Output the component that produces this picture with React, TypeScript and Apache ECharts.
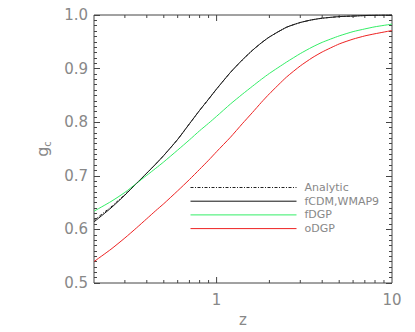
import React, { useEffect, useRef } from "react";
import * as echarts from "echarts";

const zValues = [0.2, 0.25, 0.3, 0.35, 0.4, 0.45, 0.5, 0.6, 0.7, 0.8, 0.9, 1.0, 1.2, 1.4, 1.6, 1.8, 2.0, 2.5, 3.0, 3.5, 4, 5, 6, 7, 8, 10];
const analytic = [0.617, 0.642, 0.665, 0.686, 0.705, 0.722, 0.738, 0.768, 0.797, 0.822, 0.843, 0.862, 0.893, 0.916, 0.934, 0.948, 0.959, 0.977, 0.986, 0.991, 0.994, 0.997, 0.998, 0.999, 0.9995, 1.0];
const fcdm = [0.614, 0.640, 0.664, 0.686, 0.705, 0.722, 0.738, 0.768, 0.797, 0.822, 0.843, 0.862, 0.893, 0.916, 0.934, 0.948, 0.959, 0.977, 0.986, 0.991, 0.994, 0.997, 0.998, 0.999, 0.9995, 1.0];
const fdgp = [0.634, 0.652, 0.669, 0.686, 0.701, 0.714, 0.726, 0.748, 0.767, 0.784, 0.798, 0.811, 0.834, 0.852, 0.867, 0.880, 0.891, 0.912, 0.928, 0.940, 0.949, 0.961, 0.969, 0.974, 0.978, 0.983];
const odgp = [0.540, 0.563, 0.584, 0.603, 0.620, 0.635, 0.648, 0.672, 0.693, 0.712, 0.729, 0.745, 0.772, 0.797, 0.818, 0.837, 0.853, 0.884, 0.905, 0.920, 0.931, 0.946, 0.955, 0.961, 0.965, 0.971];

const seriesNames = ["Analytic", "fCDM,WMAP9", "fDGP", "oDGP"];
const xMinorTicks = [0.3, 0.4, 0.5, 0.6, 0.7, 0.8, 0.9, 2, 3, 4, 5, 6, 7, 8, 9];
const xMajorTicks = [1];
const xTickLabels = [1, 10];

const AXIS = "#444";
const LABEL = "#888";
const FONT = "DejaVu Sans";

export default function App() {
  const ref = useRef<HTMLDivElement>(null);
  useEffect(() => {
    const chart = echarts.init(ref.current!, null, { renderer: "svg" });
    const pairs = (ys: number[]) => zValues.map((z, i) => [z, ys[i]]);
    const tickData = [
      ...xMinorTicks.map((z) => [z, 0.5, 0]),
      ...xMajorTicks.map((z) => [z, 0.5, 1]),
    ];
    const yAxisCommon = {
      type: "value",
      min: 0.5,
      max: 1.0,
      interval: 0.1,
      splitLine: { show: false },
      axisLine: { show: false },
      axisTick: { show: true, inside: true, length: 6, lineStyle: { color: AXIS } },
      minorTick: { show: true, splitNumber: 10, length: 3, lineStyle: { color: AXIS } },
    };
    const lineSeries = (name: string, ys: number[], color: string, type: any, z: number) => ({
      name,
      type: "line",
      data: pairs(ys),
      showSymbol: false,
      symbol: "none",
      smooth: 0.2,
      lineStyle: { color, width: 1, type },
      itemStyle: { color },
      z,
    });
    chart.setOption({
      animation: false,
      backgroundColor: "#fff",
      grid: { left: 94, right: 23, top: 15, bottom: 45, show: true, borderColor: AXIS, borderWidth: 1, backgroundColor: "transparent" },
      xAxis: {
        type: "log",
        logBase: 10,
        min: 0.2,
        max: 10,
        splitLine: { show: false },
        axisLine: { show: false },
        axisTick: { show: false },
        axisLabel: {
          color: LABEL,
          fontFamily: FONT,
          fontSize: 15,
          margin: 9,
          formatter: (v: number) => {
            const hit = xTickLabels.find((t) => Math.abs(v - t) < 1e-6 * t);
            return hit !== undefined ? String(hit) : "";
          },
        },
        name: "z",
        nameLocation: "middle",
        nameGap: 29,
        nameTextStyle: { color: LABEL, fontFamily: FONT, fontSize: 15 },
      },
      yAxis: [
        {
          ...yAxisCommon,
          position: "left",
          axisLabel: {
            color: LABEL,
            fontFamily: FONT,
            fontSize: 15,
            margin: 6,
            formatter: (v: number) => v.toFixed(1),
          },
          name: "{a|g}{b|c}",
          nameLocation: "middle",
          nameGap: 42,
          nameRotate: 90,
          nameTextStyle: {
            color: LABEL,
            fontFamily: FONT,
            rich: {
              a: { fontSize: 16, color: LABEL, fontFamily: FONT },
              b: { fontSize: 10, color: LABEL, fontFamily: FONT, padding: [9, 0, 0, 0] },
            },
          },
        },
        {
          ...yAxisCommon,
          position: "right",
          axisLabel: { show: false },
        },
      ],
      legend: {
        orient: "vertical",
        left: 190,
        top: 182,
        padding: 0,
        itemWidth: 106,
        itemHeight: 12,
        itemGap: 2.7,
        data: seriesNames,
        itemStyle: { opacity: 0, borderWidth: 0 },
        lineStyle: { width: 1 },
        textStyle: { color: LABEL, fontFamily: FONT, fontSize: 11, padding: [0, 0, 0, 3] },
        selectedMode: false,
      },
      series: [
        lineSeries("Analytic", analytic, "#222", [3, 1.5, 1, 1.5], 3),
        lineSeries("fCDM,WMAP9", fcdm, "#111", "solid", 2),
        lineSeries("fDGP", fdgp, "#33ee66", "solid", 2),
        lineSeries("oDGP", odgp, "#ee2222", "solid", 2),
        {
          name: "xticks",
          type: "custom",
          data: tickData,
          encode: { x: 0, y: 1 },
          silent: true,
          renderItem: (_p: any, api: any) => {
            const z = api.value(0);
            const major = api.value(2) === 1;
            const len = major ? 6 : 3;
            const b = api.coord([z, 0.5]);
            const t = api.coord([z, 1.0]);
            return {
              type: "group",
              children: [
                { type: "line", shape: { x1: b[0], y1: b[1], x2: b[0], y2: b[1] - len }, style: { stroke: AXIS, lineWidth: 1 } },
                { type: "line", shape: { x1: t[0], y1: t[1], x2: t[0], y2: t[1] + len }, style: { stroke: AXIS, lineWidth: 1 } },
              ],
            };
          },
        },
      ],
    });
    return () => chart.dispose();
  }, []);
  return <div ref={ref} style={{ width: 415, height: 332, position: "absolute", left: 0, top: 0 }} />;
}
